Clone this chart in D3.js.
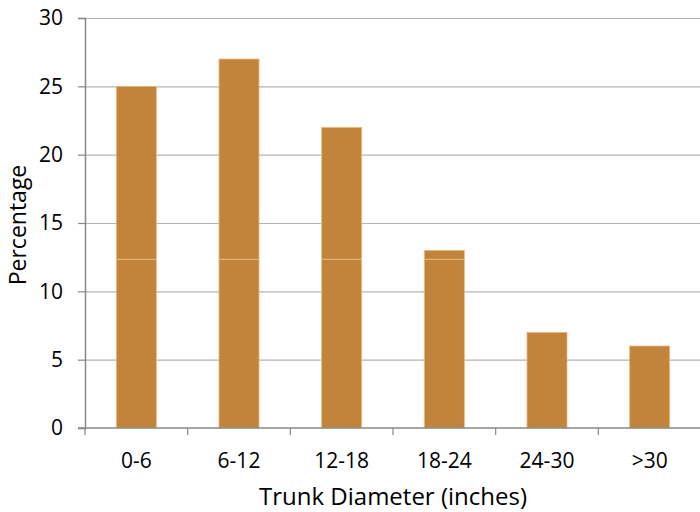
<!DOCTYPE html>
<html>
<head>
<meta charset="utf-8">
<script src="https://cdn.jsdelivr.net/npm/d3@7"></script>
<style>
  body { margin: 0; background: #fff; }
  text { font-family: "Open Sans", sans-serif; fill: #000; }
</style>
</head>
<body>
<script>
// data
const categories = ["0-6", "6-12", "12-18", "18-24", "24-30", ">30"];
const percentages = [25, 27, 22, 13, 7, 6];
const yTicks = [0, 5, 10, 15, 20, 25, 30];

const W = 700, H = 512;
const margin = { top: 18, right: -1, bottom: 84, left: 85 };
const font = "'Open Sans', sans-serif";

const svg = d3.select("body").append("svg")
  .attr("width", W)
  .attr("height", H);

const x = d3.scaleBand()
  .domain(categories)
  .range([margin.left, W - margin.right])
  .paddingInner(0.61)
  .paddingOuter(0.305);

const y = d3.scaleLinear()
  .domain([0, 30])
  .range([H - margin.bottom, margin.top]);

// gridlines
svg.append("g")
  .selectAll("line")
  .data(yTicks.filter(d => d > 0))
  .join("line")
  .attr("x1", margin.left)
  .attr("x2", W)
  .attr("y1", d => y(d) + 0.5)
  .attr("y2", d => y(d) + 0.5)
  .attr("stroke", "#b4b4b4")
  .attr("stroke-width", 1.2);

// bars (two pieces, like the original's split render)
const split = 12.35;
const bars = svg.append("g");
categories.forEach((c, i) => {
  const v = percentages[i];
  const pieces = v > split ? [[0, split], [split, v]] : [[0, v]];
  pieces.forEach(([a, b]) => {
    bars.append("rect")
      .attr("x", x(c))
      .attr("width", x.bandwidth())
      .attr("y", y(b))
      .attr("height", y(a) - y(b))
      .attr("fill", "#c1843a")
      .attr("stroke", "#e6bf86")
      .attr("stroke-width", 0.8);
  });
});

// y axis
const yAxis = d3.axisLeft(y)
  .tickValues(yTicks)
  .tickSize(7)
  .tickPadding(15);
const gy = svg.append("g")
  .attr("transform", `translate(${margin.left},0)`)
  .call(yAxis);
gy.select(".domain").attr("stroke", "#888").attr("stroke-width", 1.5);
gy.selectAll(".tick line").attr("stroke", "#888").attr("stroke-width", 1.2);
gy.selectAll(".tick text")
  .attr("font-size", 21)
  .attr("fill", "#000")
  .style("font-family", font);

// x axis
const xAxis = d3.axisBottom(x).tickSize(0).tickPadding(25);
const gx = svg.append("g")
  .attr("transform", `translate(0,${y(0)})`)
  .call(xAxis);
gx.select(".domain").remove();
gx.selectAll(".tick text")
  .attr("font-size", 21)
  .attr("fill", "#000")
  .style("font-family", font);

svg.append("line")
  .attr("x1", margin.left - 7).attr("x2", W)
  .attr("y1", y(0)).attr("y2", y(0))
  .attr("stroke", "#888").attr("stroke-width", 1.5);

// category boundary ticks
const step = x.step();
svg.append("g")
  .selectAll("line")
  .data(d3.range(categories.length))
  .join("line")
  .attr("x1", i => margin.left + i * step)
  .attr("x2", i => margin.left + i * step)
  .attr("y1", y(0))
  .attr("y2", y(0) + 7)
  .attr("stroke", "#888")
  .attr("stroke-width", 1.2);

// axis titles
svg.append("text")
  .attr("x", 393)
  .attr("y", 505)
  .attr("text-anchor", "middle")
  .attr("font-size", 24)
  .text("Trunk Diameter (inches)");

svg.append("text")
  .attr("transform", `translate(26,225) rotate(-90)`)
  .attr("text-anchor", "middle")
  .attr("font-size", 23)
  .text("Percentage");
</script>
</body>
</html>
